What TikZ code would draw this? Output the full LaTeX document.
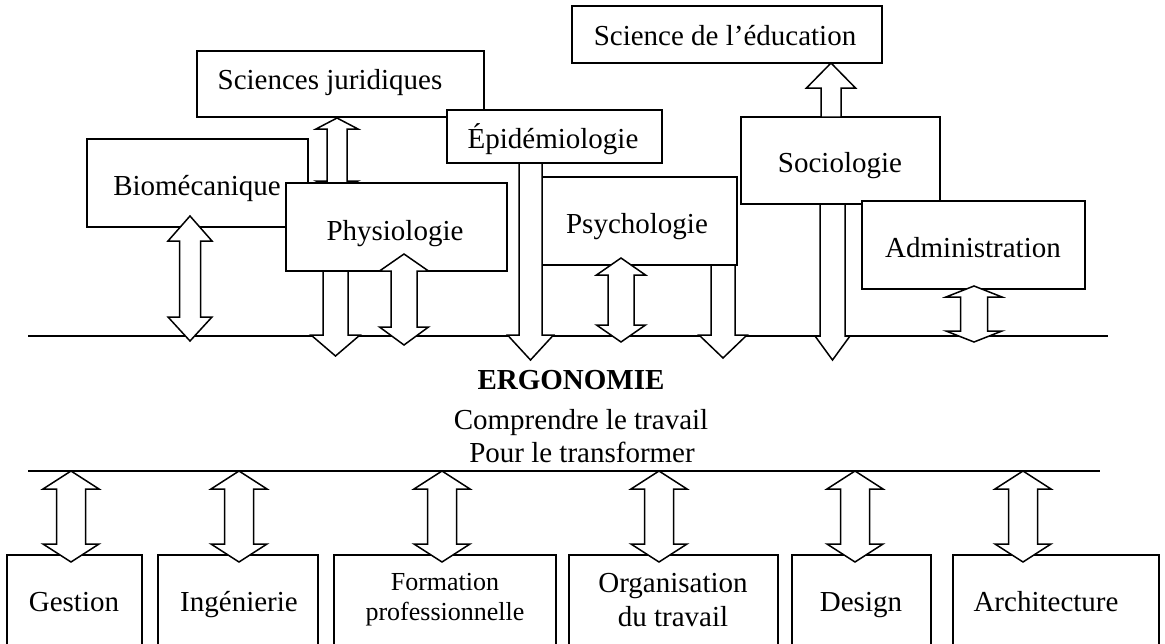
\documentclass[tikz,border=0pt]{standalone}
\usepackage{fontspec}
\setmainfont{Liberation Serif}
\newcommand{\ebox}[5]{\node[ebx, minimum width={#4-#2}, minimum height={#5-#3}, anchor=north west] (#1) at (#2,#3) {};}
% x, ytop, ybot, half head, half shaft, head len top, head len bottom
\newcommand{\fatdbl}[7]{\draw[fat] (#1,#2) -- ({#1+#4},{#2+#6}) -- ({#1+#5},{#2+#6}) -- ({#1+#5},{#3-#7}) -- ({#1+#4},{#3-#7}) -- (#1,#3) -- ({#1-#4},{#3-#7}) -- ({#1-#5},{#3-#7}) -- ({#1-#5},{#2+#6}) -- ({#1-#4},{#2+#6}) -- cycle;}
% x, ystart, ybase, ytip, half head, half shaft
\newcommand{\fatone}[6]{\draw[fat] ({#1-#6},#2) -- ({#1+#6},#2) -- ({#1+#6},#3) -- ({#1+#5},#3) -- (#1,#4) -- ({#1-#5},#3) -- ({#1-#6},#3) -- cycle;}
\begin{document}
\begin{tikzpicture}[x=1pt,y=-1pt,
  ebx/.style={draw, fill=white, line width=1.5pt, inner sep=0pt, outer sep=0pt},
  fat/.style={draw, fill=white, line width=1.5pt, line join=miter},
  txt/.style={inner sep=0pt, anchor=base, font=\fontsize{29}{33}\selectfont},
  txts/.style={inner sep=0pt, anchor=base, font=\fontsize{26}{30}\selectfont},
  hline/.style={line width=1.5pt}]
\useasboundingbox (0,0) rectangle (1165,643);
% horizontal lines
\coordinate (L1a) at (28,336); \coordinate (L1b) at (1108,336);
\coordinate (L2a) at (28,471); \coordinate (L2b) at (1100,471);
\draw[hline] (L1a) -- (L1b);
\draw[hline] (L2a) -- (L2b);
% top boxes
\ebox{sj}{197}{51}{484}{117}
\ebox{epi}{447}{110}{662}{163}
\fatdbl{337}{118}{192}{21}{10}{11}{11}
\ebox{bio}{87}{139}{308}{227}
\ebox{phy}{286}{183}{507}{271}
\ebox{psy}{542}{177}{737}{265}
\ebox{edu}{572}{6}{882}{63}
\ebox{soc}{741}{117}{940}{204}
\ebox{adm}{862}{201}{1085}{289}
% arrows top
\fatdbl{190}{216}{341}{22}{10.5}{25}{24}
\fatone{335.5}{271}{335}{356}{24.5}{12.5}
\fatdbl{404}{254}{345}{24.5}{13}{17}{18}
\fatone{530.5}{163}{335}{360}{23}{11.5}
\fatdbl{621}{258}{342}{24.5}{13}{17}{17}
\fatone{723}{265}{335}{358}{24}{12}
\fatone{832.5}{204}{336}{360}{17.5}{12.5}
\fatone{831}{117}{88}{63}{24.5}{10}
\fatdbl{974}{286}{342}{28}{13.5}{11}{11}
% bottom boxes
\ebox{ges}{7}{555}{142}{660}
\ebox{ing}{158}{555}{318}{660}
\ebox{for}{334}{555}{556}{660}
\ebox{org}{569}{555}{778}{660}
\ebox{des}{792}{555}{931}{660}
\ebox{arc}{953}{555}{1159}{660}
% bottom arrows
\fatdbl{71}{471}{562}{28}{14.5}{18}{18}
\fatdbl{239}{471}{562}{28}{14.5}{18}{18}
\fatdbl{442}{471}{562}{28}{14.5}{18}{18}
\fatdbl{659}{471}{562}{28}{14.5}{18}{18}
\fatdbl{855}{471}{562}{28}{14.5}{18}{18}
\fatdbl{1023}{471}{562}{28}{14.5}{18}{18}
% texts
\node[txt] (tsj) at (330,89) {Sciences juridiques};
\node[txt] (tepi) at (553,148) {Épidémiologie};
\node[txt] (tbio) at (197,195) {Biomécanique};
\node[txt] (tphy) at (395,240) {Physiologie};
\node[txt] (tpsy) at (637,233) {Psychologie};
\node[txt] (tedu) at (725,45) {Science de l’éducation};
\node[txt] (tsoc) at (840,172) {Sociologie};
\node[txt] (tadm) at (973,257) {Administration};
\node[txt, font=\fontsize{29}{33}\selectfont\bfseries] (terg) at (571,389) {ERGONOMIE};
\node[txt] (tcom) at (581,429) {Comprendre le travail};
\node[txt] (tpou) at (582,462) {Pour le transformer};
\node[txt] (tges) at (74,611) {Gestion};
\node[txt] (ting) at (239,611) {Ingénierie};
\node[txts] (tfor1) at (445,590) {Formation};
\node[txts] (tfor2) at (445,620) {professionnelle};
\node[txt] (torg1) at (673,592) {Organisation};
\node[txt] (torg2) at (673,626) {du travail};
\node[txt] (tdes) at (861,611) {Design};
\node[txt] (tarc) at (1046,611) {Architecture};
\end{tikzpicture}
\end{document}
